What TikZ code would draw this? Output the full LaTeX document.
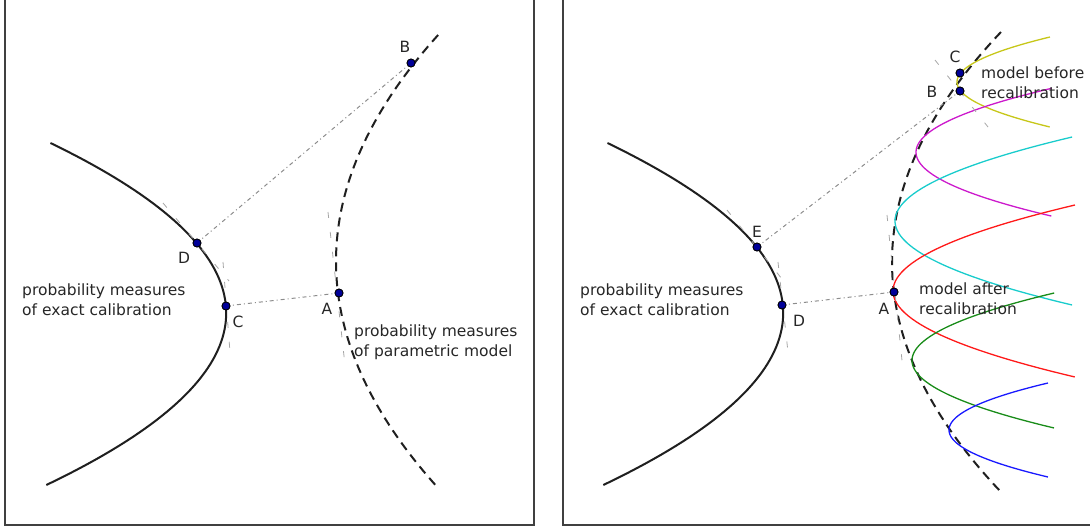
\documentclass[tikz,border=0pt]{standalone}
\usepackage{fontspec}
\setmainfont{DejaVu Sans}
\definecolor{mply}{rgb}{0.78,0.78,0.1}
\definecolor{mplm}{rgb}{0.8,0.1,0.8}
\definecolor{mplc}{rgb}{0.1,0.8,0.8}
\definecolor{mplr}{rgb}{1,0.1,0.1}
\definecolor{mplg}{rgb}{0.1,0.55,0.1}
\definecolor{mplb}{rgb}{0.1,0.1,1}
\definecolor{txt}{HTML}{262626}
\definecolor{dotfill}{rgb}{0,0,0.6}
\tikzset{
  frame/.style={draw=black!75, line width=1.3pt},
  exact/.style={draw=black!88, line width=2pt},
  model/.style={draw=black!88, line width=2pt, dash pattern=on 9pt off 6pt},
  link/.style={draw=black!45, line width=1pt, dash pattern=on 4pt off 3pt on 1pt off 3pt},
  tangent/.style={draw=black!35, line width=0.8pt, dash pattern=on 6pt off 14pt},
  pt/.style={circle, fill=dotfill, draw=black, line width=0.8pt, minimum size=8pt, inner sep=0pt},
  lab/.style={text=txt, font=\fontsize{15.5}{19.5}\selectfont, inner sep=0pt},
  fam/.style={line width=1.3pt, samples=60, variable=\u}
}
\begin{document}
\begin{tikzpicture}[x=1pt, y=-1pt]
\useasboundingbox (0,0) rectangle (1090,528);
% frames
\draw[frame] (5,-5) -- (5,525) -- (534,525) -- (534,-5);
\draw[frame] (563,-5) -- (563,525) -- (1095,525);

% ---------- left panel ----------
\draw[exact] plot[samples=80, variable=\u, domain=-1.70:1.72] ({226.2-60.8*\u*\u}, {313+100*\u});
\draw[model] plot[samples=80, variable=\u, domain=-2.265:2.265] ({336+19.9*\u*\u}, {261.5+100*\u});

\coordinate (tD1) at (163,203);
\coordinate (tD2) at (229,281);
\coordinate (tC1) at (223,262);
\coordinate (tC2) at (230,352);
\coordinate (tA1) at (328,212);
\coordinate (tA2) at (345,365);
\draw[tangent] (tD1) -- (tD2);
\draw[tangent] (tC1) -- (tC2);
\draw[tangent] (tA1) -- (tA2);

\node[pt] (lB) at (411,63) {};
\node[pt] (lD) at (197,243) {};
\node[pt] (lC) at (226,306) {};
\node[pt] (lA) at (339,293) {};
\draw[link] (lD.center) -- (lB.center);
\draw[link] (lC.center) -- (lA.center);
\node[pt] at (lB) {};
\node[pt] at (lD) {};
\node[pt] at (lC) {};
\node[pt] at (lA) {};

\node[lab] (lBl) at (405,47) {B};
\node[lab] (lDl) at (184,258) {D};
\node[lab] (lCl) at (238,322) {C};
\node[lab] (lAl) at (327,309) {A};
\node[lab, align=left, anchor=north west] (lex) at (22,284) {probability measures\\of exact calibration};
\node[lab, align=left, anchor=north west] (lpm) at (354,325) {probability measures\\of parametric model};

% ---------- right panel ----------
\draw[exact] plot[samples=80, variable=\u, domain=-1.70:1.72] ({783.2-60.8*\u*\u}, {313+100*\u});
\draw[model] plot[samples=80, variable=\u, domain=-2.30:2.30] ({892+20.6*\u*\u}, {262+100*\u});

\draw[fam, mply] plot[domain=-0.45:0.45] ({957+459*\u*\u}, {82+100*\u});
\draw[fam, mplm] plot[domain=-0.639:0.639] ({916+332*\u*\u}, {152.2+100*\u});
\draw[fam, mplc] plot[domain=-0.84:0.84] ({895+251*\u*\u}, {221+100*\u});
\draw[fam, mplr] plot[domain=-0.86:0.86] ({893+246*\u*\u}, {291+100*\u});
\draw[fam, mplg] plot[domain=-0.675:0.675] ({912+312*\u*\u}, {360.5+100*\u});
\draw[fam, mplb] plot[domain=-0.47:0.47] ({949+448*\u*\u}, {430+100*\u});

\coordinate (tE1) at (727,210);
\coordinate (tE2) at (782,279);
\coordinate (tRD1) at (778,262);
\coordinate (tRD2) at (788,352);
\coordinate (tRA1) at (887,215);
\coordinate (tRA2) at (903,370);
\coordinate (tB1) at (935,60);
\coordinate (tB2) at (988,127);
\draw[tangent] (tE1) -- (tE2);
\draw[tangent] (tRD1) -- (tRD2);
\draw[tangent] (tRA1) -- (tRA2);
\draw[tangent] (tB1) -- (tB2);

\node[pt] (rC) at (960,73) {};
\node[pt] (rB) at (960,91) {};
\node[pt] (rE) at (757,247) {};
\node[pt] (rD) at (782,305) {};
\node[pt] (rA) at (894,292) {};
\draw[link] (rE.center) -- (rB.center);
\draw[link] (rD.center) -- (rA.center);
\node[pt] at (rC) {};
\node[pt] at (rB) {};
\node[pt] at (rE) {};
\node[pt] at (rD) {};
\node[pt] at (rA) {};

\node[lab] (rCl) at (955,57) {C};
\node[lab] (rBl) at (932,92) {B};
\node[lab] (rEl) at (757,232) {E};
\node[lab] (rDl) at (799,321) {D};
\node[lab] (rAl) at (884,309) {A};
\node[lab, align=left, anchor=north west] (rex) at (580,284) {probability measures\\of exact calibration};
\node[lab, align=left, anchor=north west] (rbefore) at (981,67) {model before\\recalibration};
\node[lab, align=left, anchor=north west] (rafter) at (919,283) {model after\\recalibration};
\end{tikzpicture}
\end{document}
